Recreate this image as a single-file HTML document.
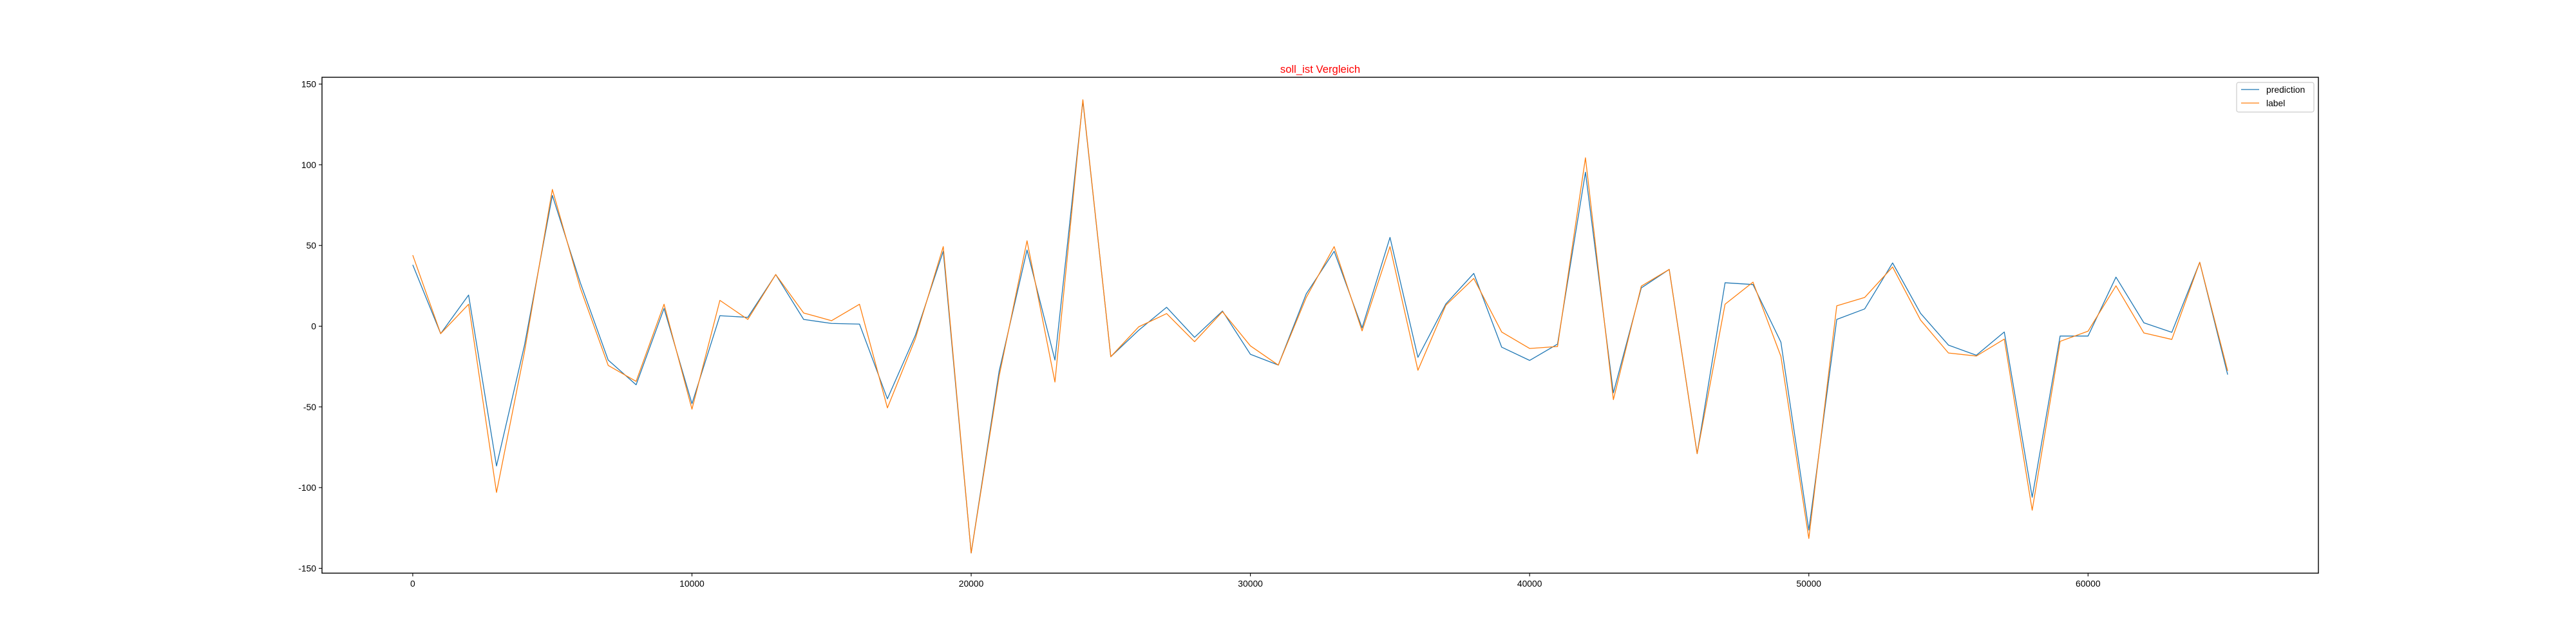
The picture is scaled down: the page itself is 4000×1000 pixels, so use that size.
<!DOCTYPE html>
<html><head><meta charset="utf-8"><style>
html,body{margin:0;padding:0;background:#fff;}
svg{display:block;font-family:"Liberation Sans","DejaVu Sans",sans-serif;}
</style></head><body>
<svg id="chart" width="4000" height="1000" viewBox="0 0 4000 1000" xmlns="http://www.w3.org/2000/svg">
<rect width="4000" height="1000" fill="#fff"/>
<text x="2050" y="113" font-size="16.7" fill="#ff0000" text-anchor="middle">soll_ist Vergleich</text>
<g id="ticks"></g>
<g id="lines"></g>
<rect x="500" y="120" width="3100" height="770" fill="none" stroke="#000" stroke-width="1.4"/>
<g>
<rect x="3473" y="128" width="120" height="46" rx="3" fill="#fff" fill-opacity="0.8" stroke="#ccc" stroke-width="1.2"/>
<line x1="3480" y1="139" x2="3508" y2="139" stroke="#1f77b4" stroke-width="1.3"/>
<text x="3519" y="144" font-size="13.9" fill="#000">prediction</text>
<line x1="3480" y1="160" x2="3508" y2="160" stroke="#ff7f0e" stroke-width="1.3"/>
<text x="3519" y="165" font-size="13.9" fill="#000">label</text>
</g>
</svg>
<script>
const xValues = [0,1000,2000,3000,4000,5000,6000,7000,8000,9000,10000,11000,12000,13000,14000,15000,16000,17000,18000,19000,20000,21000,22000,23000,24000,25000,26000,27000,28000,29000,30000,31000,32000,33000,34000,35000,36000,37000,38000,39000,40000,41000,42000,43000,44000,45000,46000,47000,48000,49000,50000,51000,52000,53000,54000,55000,56000,57000,58000,59000,60000,61000,62000,63000,64000,65000];
const prediction = [38,-4.6,19.3,-86.6,-12,81,27,-21,-36.3,11,-48,6.5,5.5,32,4.2,1.7,1.3,-45,-5.7,46.4,-140.5,-28,47.2,-21,139.5,-18.9,-2.5,11.7,-6.9,9.4,-17.4,-24.1,20,46.4,-1,55,-19.3,13.8,32.7,-13,-21.2,-11.1,95.4,-41.3,23.7,35.2,-79,26.9,25.8,-9.9,-126.3,4.2,10.7,39.2,8,-11.7,-18,-3.6,-106,-6.1,-6.1,30.4,2.1,-3.8,39.6,-30];
const label = [44,-4.6,13.6,-103,-16,84.7,23.7,-24.3,-34.2,13.6,-51.4,16,4.2,32,8.2,3.4,13.6,-50.6,-7.8,49.3,-140.5,-31,52.9,-34.6,140.3,-18.9,-0.4,7.8,-9.6,9,-12.2,-24.1,17.8,49.3,-2.9,49.3,-27.3,13,29.6,-3.6,-13.8,-12.6,104.3,-45.5,24.8,35.2,-79,13.6,27.3,-18.7,-131.5,12.6,17.8,36.7,3.8,-16.6,-18.5,-8,-114,-9.4,-3.1,25,-4.2,-8.2,39.6,-27.7];
const xTicks = [0,10000,20000,30000,40000,50000,60000];
const yTicks = [-150,-100,-50,0,50,100,150];

const NS = "http://www.w3.org/2000/svg";
const L=500,R=3600,T=120,B=890;
const X0=-3250,X1=68250,Y0=-153,Y1=154.2;
function sx(v){return L+(v-X0)/(X1-X0)*(R-L);}
function sy(v){return B-(v-Y0)/(Y1-Y0)*(B-T);}
const tg=document.getElementById('ticks');
xTicks.forEach(v=>{
  const l=document.createElementNS(NS,'line');
  l.setAttribute('x1',sx(v));l.setAttribute('x2',sx(v));l.setAttribute('y1',B);l.setAttribute('y2',B+5);
  l.setAttribute('stroke','#000');l.setAttribute('stroke-width','1.1');
  
  
  tg.appendChild(l);
  const t=document.createElementNS(NS,'text');
  t.setAttribute('x',sx(v));t.setAttribute('y',B+21);t.setAttribute('font-size','13.9');t.setAttribute('text-anchor','middle');
  t.textContent=v;
  
  
  tg.appendChild(t);
});
yTicks.forEach(v=>{
  const l=document.createElementNS(NS,'line');
  l.setAttribute('x1',L-5);l.setAttribute('x2',L);l.setAttribute('y1',sy(v));l.setAttribute('y2',sy(v));
  l.setAttribute('stroke','#000');l.setAttribute('stroke-width','1.1');
  
  
  tg.appendChild(l);
  const t=document.createElementNS(NS,'text');
  t.setAttribute('x',L-9);t.setAttribute('y',sy(v)+5);t.setAttribute('font-size','13.9');t.setAttribute('text-anchor','end');
  t.textContent=v;
  
  
  tg.appendChild(t);
});
const lg=document.getElementById('lines');
function draw(vals,color,name){
  const p=document.createElementNS(NS,'polyline');
  p.setAttribute('points',vals.map((v,i)=>sx(xValues[i])+','+sy(v)).join(' '));
  p.setAttribute('fill','none');p.setAttribute('stroke',color);p.setAttribute('stroke-width','1.3');
  p.setAttribute('stroke-linejoin','round');
  
  
  lg.appendChild(p);
}
draw(prediction,'#1f77b4','prediction-line');
draw(label,'#ff7f0e','label-line');
</script>
</body></html>
